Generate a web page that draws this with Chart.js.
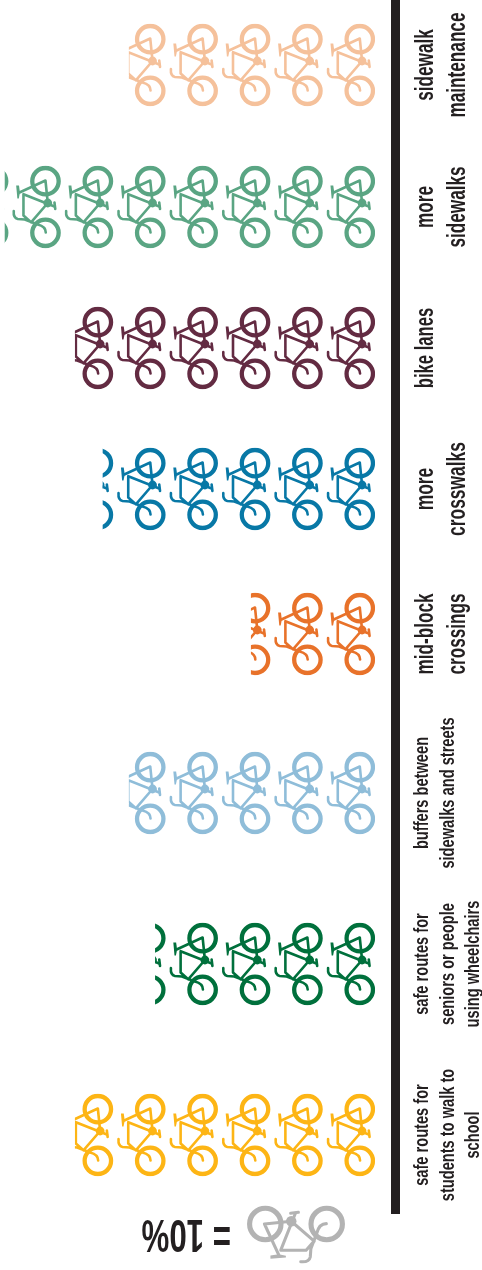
<!DOCTYPE html>
<html>
<head>
<meta charset="utf-8">
<style>
  html, body { margin: 0; padding: 0; background: #fff; }
  canvas { display: block; }
</style>
<script src="https://cdn.jsdelivr.net/npm/chart.js@4/dist/chart.umd.min.js"></script>
</head>
<body>
<canvas id="chart" width="482" height="1270"></canvas>
<script>
const categories = [
  ["sidewalk", "maintenance"],
  ["more", "sidewalks"],
  ["bike lanes"],
  ["more", "crosswalks"],
  ["mid-block", "crossings"],
  ["buffers between", "sidewalks and streets"],
  ["safe routes for", "seniors or people", "using wheelchairs"],
  ["safe routes for", "students to walk to", "school"],
];
const percents = [47, 70.7, 57.3, 52, 23.7, 47, 42, 57.3];
const bikeColors = ["#f5c19b", "#5aa583", "#632b42", "#0878a6", "#e8722a", "#8fbdd9", "#00703c", "#fdb515"];

// the rows are not evenly spaced in the picture, so y is a linear axis in page pixels
const rowCentres = [65, 207, 348, 489, 634, 793, 964, 1135];
const labelSizes = [26, 26, 26, 26, 26, 19.5, 19.5, 19.5];
const labelSqueeze = [0.66, 0.66, 0.64, 0.67, 0.66, 0.75, 0.75, 0.75];
const labelBaseline = [433, 433, 433, 433, 433, 428, 428, 428];
const labelGap = [32, 32, 32, 32, 32, 26, 25.5, 25.5];
const legendColor = "#b3b3b3";
const inkColor = "#231f20";
const PER_BIKE = 10;

// bike lying on its side, drawn in a 48 x 83 box, wheels on the right
function traceBike(ctx) {
  ctx.lineCap = "round";
  ctx.lineJoin = "round";

  ctx.lineWidth = 4.3;
  ctx.beginPath();
  ctx.arc(32.7, 15.7, 13.2, 0, Math.PI * 2);
  ctx.stroke();
  ctx.beginPath();
  ctx.arc(32.7, 67.3, 13.2, 0, Math.PI * 2);
  ctx.stroke();

  ctx.lineWidth = 2.6;
  ctx.beginPath();
  ctx.moveTo(6.7, 27);
  ctx.lineTo(32.7, 15);
  ctx.lineTo(35, 37.5);
  ctx.lineTo(18.3, 56.8);
  ctx.moveTo(10.7, 28.7);
  ctx.lineTo(41.7, 41);
  ctx.moveTo(10.7, 28.7);
  ctx.lineTo(10.7, 50);
  ctx.lineTo(18.3, 56.8);
  ctx.moveTo(1, 45.5);
  ctx.quadraticCurveTo(0.4, 52.5, 5, 53.5);
  ctx.lineTo(12, 54);
  ctx.lineTo(25, 59);
  ctx.quadraticCurveTo(33, 61, 33, 67);
  ctx.stroke();

  // saddle
  ctx.beginPath();
  ctx.moveTo(3.4, 20);
  ctx.lineTo(6.2, 20);
  ctx.lineTo(7.2, 27);
  ctx.lineTo(6, 33);
  ctx.lineTo(4.6, 33);
  ctx.closePath();
  ctx.fill();

  // pedal
  ctx.lineWidth = 2.6;
  ctx.beginPath();
  ctx.moveTo(41.7, 37);
  ctx.lineTo(42.5, 43.5);
  ctx.stroke();

  ctx.beginPath();
  ctx.arc(35, 37.5, 4.4, 0, Math.PI * 2);
  ctx.fill();
}

const bikeBars = {
  id: "bikeBars",
  afterDatasetsDraw(chart) {
    const ctx = chart.ctx;
    const xs = chart.scales.x;
    chart.getDatasetMeta(0).data.forEach((bar, i) => {
      const top = bar.y - bar.height / 2;
      ctx.save();
      ctx.beginPath();
      ctx.rect(bar.x, top, bar.base - bar.x, bar.height);
      ctx.clip();
      ctx.strokeStyle = bikeColors[i];
      ctx.fillStyle = bikeColors[i];
      for (let k = 0; k * PER_BIKE < percents[i]; k++) {
        ctx.save();
        ctx.translate(xs.getPixelForValue(k * PER_BIKE) - 48, top);
        traceBike(ctx);
        ctx.restore();
      }
      ctx.restore();
    });
  },
  afterDraw(chart) {
    const ctx = chart.ctx;
    const ys = chart.scales.y;

    // none of the installed fonts is this narrow, so squeeze along the text
    categories.forEach((lines, i) => {
      lines.forEach((line, n) => {
        ctx.save();
        ctx.translate(labelBaseline[i] + n * labelGap[i], ys.getPixelForValue(rowCentres[i]));
        ctx.rotate(-Math.PI / 2);
        ctx.scale(labelSqueeze[i], 1);
        ctx.font = `bold ${labelSizes[i]}px 'Liberation Sans'`;
        ctx.textAlign = "center";
        ctx.textBaseline = "alphabetic";
        ctx.fillStyle = inkColor;
        ctx.fillText(line, 0, 0);
        ctx.restore();
      });
    });

    // key at the bottom, upside down like the source
    ctx.save();
    ctx.strokeStyle = legendColor;
    ctx.fillStyle = legendColor;
    ctx.translate(296, 1224);
    ctx.rotate(-Math.PI / 2);
    ctx.scale(1.19, 1.19);
    ctx.translate(-32.7, -41.5);
    traceBike(ctx);
    ctx.restore();

    ctx.save();
    ctx.fillStyle = inkColor;
    ctx.translate(231, 1233);
    ctx.rotate(Math.PI);
    ctx.scale(0.68, 1);
    ctx.font = "bold 46px 'Liberation Sans'";
    ctx.textBaseline = "middle";
    ctx.fillText("= 10%", 0, 0);
    ctx.restore();
  },
};

new Chart(document.getElementById("chart"), {
  type: "bar",
  data: {
    datasets: [
      {
        data: percents.map((v, i) => ({ x: v, y: rowCentres[i] })),
        backgroundColor: "rgba(0,0,0,0)",
        barThickness: 83,
      },
    ],
  },
  options: {
    indexAxis: "y",
    responsive: false,
    animation: false,
    layout: { padding: { bottom: 57 } },
    plugins: { legend: { display: false }, tooltip: { enabled: false } },
    scales: {
      x: { display: false, reverse: true, min: -3.9, max: 71.6 },
      y: {
        type: "linear",
        position: "right",
        reverse: true,
        offset: false,
        min: 0,
        max: 1213,
        grid: { display: false },
        border: { color: inkColor, width: 9 },
        afterFit(s) {
          s.width = 86.5;
        },
        ticks: { display: false },
      },
    },
  },
  plugins: [bikeBars],
});
</script>
</body>
</html>
